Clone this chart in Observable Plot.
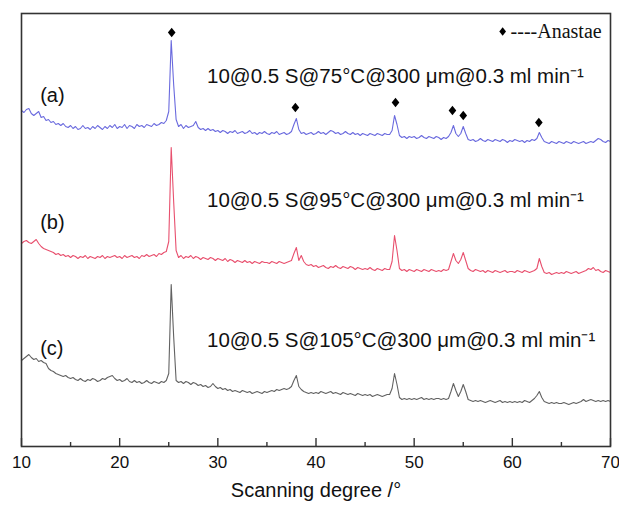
<!DOCTYPE html>
<html>
<head>
<meta charset="utf-8">
<script src="https://cdn.jsdelivr.net/npm/d3@7"></script>
<script src="https://cdn.jsdelivr.net/npm/@observablehq/plot@0.6"></script>
<style>
  html, body { margin: 0; padding: 0; background: #fff; }
  #chart svg { display: block; }
</style>
</head>
<body>
<div id="chart"></div>
<script>
// Scan grid (2θ, degrees)
const scanStart = 10;
const scanStep = 0.25;

// Stacked intensities (a.u., including the vertical stacking offset)
const intensityA = [
  336, 334, 337, 338, 333, 331, 333, 335, 329, 330, 326, 327, 324, 325, 322, 323, 321, 323, 320, 319,
  321, 318, 320, 317, 318, 321, 318, 319, 317, 320, 318, 321, 319, 317, 320, 318, 321, 319, 322, 318,
  320, 319, 322, 318, 321, 320, 318, 322, 320, 321, 319, 322, 321, 320, 323, 321, 322, 324, 323, 326,
  335, 406, 362, 327, 320, 322, 318, 321, 319, 320, 321, 325, 319, 317, 318, 316, 318, 316, 317, 315,
  316, 314, 316, 315, 313, 315, 314, 316, 313, 314, 315, 313, 314, 316, 313, 314, 312, 314, 313, 315,
  313, 312, 314, 313, 315, 312, 313, 314, 312, 313, 315, 322, 328, 317, 313, 314, 312, 313, 314, 312,
  313, 315, 313, 314, 312, 314, 316, 315, 313, 314, 312, 313, 315, 313, 312, 314, 312, 313, 311, 313,
  312, 311, 313, 312, 311, 313, 312, 311, 313, 312, 312, 316, 331, 322, 311, 309, 310, 308, 310, 309,
  310, 308, 309, 311, 309, 308, 310, 309, 308, 310, 309, 307, 309, 308, 310, 314, 321, 313, 310, 313,
  320, 313, 307, 306, 307, 305, 306, 308, 306, 305, 307, 306, 305, 307, 306, 305, 307, 306, 304, 306,
  305, 307, 306, 305, 306, 304, 306, 305, 307, 306, 308, 314, 309, 305, 304, 303, 305, 304, 303, 305,
  304, 303, 305, 304, 303, 305, 304, 303, 304, 305, 303, 304, 305, 304, 306, 308, 307, 305, 304, 306,
  305
];
const intensityB = [
  203, 205, 206, 204, 203, 205, 207, 203, 200, 198, 197, 196, 195, 194, 192, 193, 191, 192, 190, 191,
  189, 191, 190, 188, 190, 189, 191, 188, 190, 189, 188, 190, 189, 191, 188, 190, 189, 190, 191, 189,
  190, 188, 191, 189, 190, 191, 189, 190, 188, 191, 190, 192, 190, 191, 192, 190, 193, 192, 194, 195,
  205, 299, 245, 196, 189, 191, 188, 190, 189, 191, 188, 190, 189, 187, 189, 188, 187, 189, 188, 186,
  188, 187, 186, 188, 185, 187, 186, 184, 186, 185, 184, 186, 184, 185, 183, 185, 184, 183, 185, 184,
  184, 183, 185, 184, 183, 185, 184, 183, 184, 185, 186, 193, 199, 186, 191, 185, 182, 181, 182, 180,
  181, 179, 180, 181, 179, 178, 180, 179, 181, 179, 178, 180, 179, 178, 180, 179, 177, 179, 178, 177,
  178, 177, 179, 177, 176, 178, 177, 176, 178, 177, 177, 185, 211, 196, 178, 176, 177, 175, 177, 176,
  175, 177, 176, 175, 177, 176, 175, 177, 176, 175, 176, 175, 177, 176, 177, 185, 193, 186, 183, 187,
  194, 186, 178, 176, 175, 177, 176, 175, 176, 174, 176, 175, 174, 176, 175, 174, 175, 176, 174, 175,
  175, 174, 176, 175, 174, 176, 175, 174, 175, 176, 178, 188, 180, 174, 173, 174, 172, 173, 174, 173,
  174, 173, 175, 174, 173, 174, 175, 173, 174, 175, 176, 178, 177, 179, 176, 177, 175, 174, 176, 175,
  174
];
const intensityC = [
  86, 88, 90, 92, 89, 87, 88, 85, 86, 84, 83, 78, 76, 75, 73, 72, 71, 70, 71, 69,
  68, 69, 67, 66, 68, 66, 65, 67, 66, 68, 67, 65, 66, 68, 67, 69, 70, 71, 68, 66,
  67, 65, 66, 68, 65, 64, 66, 64, 65, 63, 64, 66, 64, 63, 65, 64, 63, 65, 64, 66,
  73, 162, 110, 66, 64, 65, 63, 65, 64, 62, 64, 63, 61, 62, 60, 61, 59, 60, 63, 60,
  58, 59, 57, 58, 56, 57, 55, 56, 55, 54, 56, 55, 54, 55, 53, 54, 55, 54, 53, 55,
  54, 55, 56, 55, 57, 56, 57, 58, 57, 58, 60, 66, 71, 60, 57, 55, 54, 53, 54, 53,
  54, 53, 55, 54, 53, 54, 55, 53, 54, 53, 52, 54, 53, 52, 53, 52, 51, 53, 52, 51,
  52, 51, 52, 50, 51, 52, 51, 50, 51, 52, 52, 58, 73, 62, 49, 47, 48, 47, 48, 47,
  48, 47, 48, 49, 47, 48, 47, 48, 47, 48, 48, 47, 48, 47, 48, 55, 63, 56, 50, 55,
  62, 55, 47, 46, 45, 46, 45, 46, 45, 44, 45, 46, 45, 44, 45, 46, 44, 45, 44, 45,
  44, 45, 44, 45, 44, 46, 45, 44, 46, 48, 51, 55, 49, 45, 44, 43, 44, 43, 44, 43,
  43, 44, 43, 42, 43, 44, 43, 44, 45, 47, 45, 46, 47, 46, 45, 46, 45, 46, 45, 46,
  45
];

const sampleKeys = ["a", "b", "c"];
const sampleLabels = ["(a)", "(b)", "(c)"];
const sampleConditions = [
  "10@0.5 S@75°C@300 μm@0.3 ml min⁻¹",
  "10@0.5 S@95°C@300 μm@0.3 ml min⁻¹",
  "10@0.5 S@105°C@300 μm@0.3 ml min⁻¹"
];
const labelLevels = [351, 224, 98];
const conditionLevels = [370, 246, 106];

// Anatase reflections marked with diamonds on pattern (a)
const peakPositions = [25.3, 37.9, 48.1, 53.9, 55.0, 62.7];
const peakMarkerLevels = [414, 339, 344, 336, 331, 324];

const majorTicks = [10, 20, 30, 40, 50, 60, 70];
const minorTicks = [15, 25, 35, 45, 55, 65];
const xLabel = "Scanning degree /°";
const legendSymbol = "◆";
const legendText = "----Anastae";

// Build tables
const series = [intensityA, intensityB, intensityC];
const rows = [];
series.forEach((vals, s) => {
  vals.forEach((v, i) => rows.push({theta: scanStart + i * scanStep, intensity: v, sample: sampleKeys[s]}));
});
const labels = sampleLabels.map((t, i) => ({text: t, level: labelLevels[i]}));
const conditions = sampleConditions.map((t, i) => ({text: t, level: conditionLevels[i]}));
const markers = peakPositions.map((p, i) => ({theta: p, level: peakMarkerLevels[i]}));

const rhombus = {
  draw(ctx, size) {
    const h = Math.sqrt(size / 1.6), w = 0.8 * h;
    ctx.moveTo(0, -h); ctx.lineTo(w, 0); ctx.lineTo(0, h); ctx.lineTo(-w, 0); ctx.closePath();
  }
};

const chart = Plot.plot({
  width: 619,
  height: 507,
  marginLeft: 21,
  marginRight: 9,
  marginTop: 13,
  marginBottom: 61,
  style: {fontFamily: "Arial, 'Liberation Sans', sans-serif", color: "#111", background: "#fff"},
  x: {domain: [10, 70], label: null},
  y: {domain: [0, 433], axis: null},
  color: {domain: sampleKeys, range: ["#6a6ade", "#e8506e", "#626262"]},
  marks: [
    Plot.line(rows, {x: "theta", y: "intensity", z: "sample", stroke: "sample", strokeWidth: 1.1}),
    Plot.dot(markers, {x: "theta", y: "level", symbol: rhombus, r: 3.4, fill: "#000", stroke: "none"}),
    Plot.text(labels, {x: 11.9, y: "level", text: "text", textAnchor: "start", fontSize: 20, fill: "#111"}),
    Plot.text(conditions, {x: 28.9, y: "level", text: "text", textAnchor: "start", fontSize: 20.5, fill: "#111"}),
    Plot.dot([legendSymbol], {x: 69.1, y: 415, dx: -99, symbol: rhombus, r: 3, fill: "#000", stroke: "none"}),
    Plot.text([legendText], {x: 69.1, y: 415, text: d => d, textAnchor: "end", fontSize: 20, fontFamily: "'Liberation Serif', 'Times New Roman', serif", fill: "#111"}),
    Plot.axisX(majorTicks, {tickSize: -8, tickFormat: () => "", label: null, stroke: "#333", strokeWidth: 1.4}),
    Plot.axisX(minorTicks, {tickSize: -4, tickFormat: () => "", label: null, stroke: "#333", strokeWidth: 1.4}),
    Plot.axisX(majorTicks, {tickSize: 0, tickPadding: 9, fontSize: 17, label: null, fill: "#111"}),
    Plot.text([xLabel], {frameAnchor: "bottom", dy: 50, text: d => d, fontSize: 20, fill: "#111"}),
    Plot.frame({stroke: "#333", strokeWidth: 1.6})
  ]
});
document.getElementById("chart").appendChild(chart);
</script>
</body>
</html>
